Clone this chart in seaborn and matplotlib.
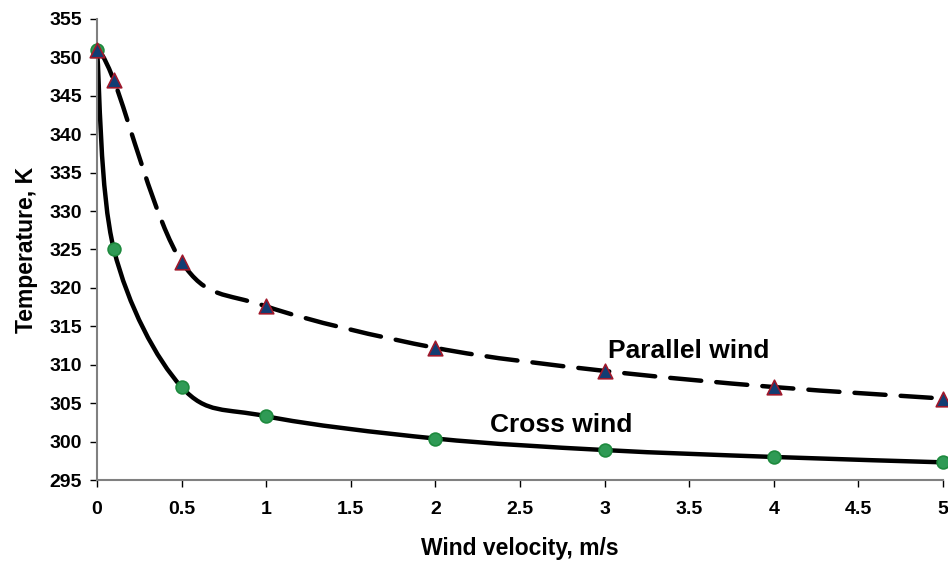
import numpy as np
import pandas as pd
import matplotlib
matplotlib.use("Agg")
import matplotlib.pyplot as plt
from matplotlib.path import Path
from matplotlib.patches import PathPatch
import seaborn as sns

# wind velocity (m/s) and temperatures (K)
velocity = [0, 0.1, 0.5, 1, 2, 3, 4, 5]
temp_cross = [351.0, 325.0, 307.1, 303.3, 300.4, 298.9, 298.0, 297.3]
temp_parallel = [351.0, 347.0, 323.4, 317.6, 312.2, 309.2, 307.1, 305.6]

x_ticks = [0, 0.5, 1, 1.5, 2, 2.5, 3, 3.5, 4, 4.5, 5]
x_tick_labels = ["0", "0.5", "1", "1.5", "2", "2.5", "3", "3.5", "4", "4.5", "5"]
y_ticks = list(range(295, 356, 5))

df = pd.DataFrame({
    "velocity": velocity * 2,
    "temperature": temp_cross + temp_parallel,
    "series": ["Cross wind"] * len(velocity) + ["Parallel wind"] * len(velocity),
})

sns.set_style("white")
plt.rcParams["font.family"] = ["Liberation Sans", "DejaVu Sans"]
plt.rcParams["font.weight"] = "bold"
plt.rcParams["text.color"] = "black"
plt.rcParams["axes.labelcolor"] = "black"
plt.rcParams["xtick.color"] = "black"
plt.rcParams["ytick.color"] = "black"


def smooth_path(xs, ys):
    # Excel-style smoothed line: cubic Bezier through each pair of points
    pts = np.column_stack([xs, ys]).astype(float)
    n = len(pts)
    verts = [pts[0]]
    codes = [Path.MOVETO]
    for i in range(n - 1):
        p0 = pts[i - 1] if i > 0 else pts[i]
        p1 = pts[i]
        p2 = pts[i + 1]
        p3 = pts[i + 2] if i + 2 < n else pts[i + 1]
        c1 = p1 + (p2 - p0) / 6.0
        c2 = p2 - (p3 - p1) / 6.0
        verts += [c1, c2, p2]
        codes += [Path.CURVE4] * 3
    return Path(verts, codes)


fig = plt.figure(figsize=(9.48, 5.63), dpi=100)
ax = fig.add_axes([0.1023, 0.1474, 0.8924, 0.8189])

ax.add_patch(PathPatch(smooth_path(velocity, temp_cross), fill=False,
                       edgecolor="black", linewidth=3.2, zorder=2,
                       capstyle="round"))
ax.add_patch(PathPatch(smooth_path(velocity, temp_parallel), fill=False,
                       edgecolor="black", linewidth=3.2, zorder=2,
                       linestyle=(0, (7, 3.4)), capstyle="round"))

cross = df[df["series"] == "Cross wind"]
parallel = df[df["series"] == "Parallel wind"]
sns.scatterplot(data=cross, x="velocity", y="temperature", ax=ax,
                marker="o", s=85, color="#2F9A55", edgecolor="#1E8A3E",
                linewidth=1.2, zorder=3, clip_on=False, legend=False)
sns.scatterplot(data=parallel, x="velocity", y="temperature", ax=ax,
                marker="^", s=110, color="#123D73", edgecolor="#A0182B",
                linewidth=1.2, zorder=4, clip_on=False, legend=False)

ax.text(3.02, 311.8, "Parallel wind", fontsize=19, fontweight="bold",
        va="center", ha="left", color="black")
ax.text(2.32, 302.1, "Cross wind", fontsize=19, fontweight="bold",
        va="center", ha="left", color="black")

ax.set_xlim(0, 5)
ax.set_ylim(295, 355)
ax.set_xticks(x_ticks)
ax.set_xticklabels(x_tick_labels)
ax.set_yticks(y_ticks)

ax.set_xlabel("Wind velocity, m/s", fontsize=16.5, fontweight="bold", labelpad=14)
ax.set_ylabel("Temperature, K", fontsize=16.5, fontweight="bold", labelpad=8)

for side in ["top", "right"]:
    ax.spines[side].set_visible(False)
for side in ["left", "bottom"]:
    ax.spines[side].set_color("#808080")
    ax.spines[side].set_linewidth(1.5)

ax.tick_params(axis="both", direction="out", length=5, width=1,
               color="black", labelcolor="black", labelsize=14,
               bottom=True, left=True)
ax.tick_params(axis="x", pad=10)
ax.tick_params(axis="y", pad=6)
for lbl in ax.get_xticklabels() + ax.get_yticklabels():
    lbl.set_fontweight("bold")

fig.savefig("out.png", dpi=100)
